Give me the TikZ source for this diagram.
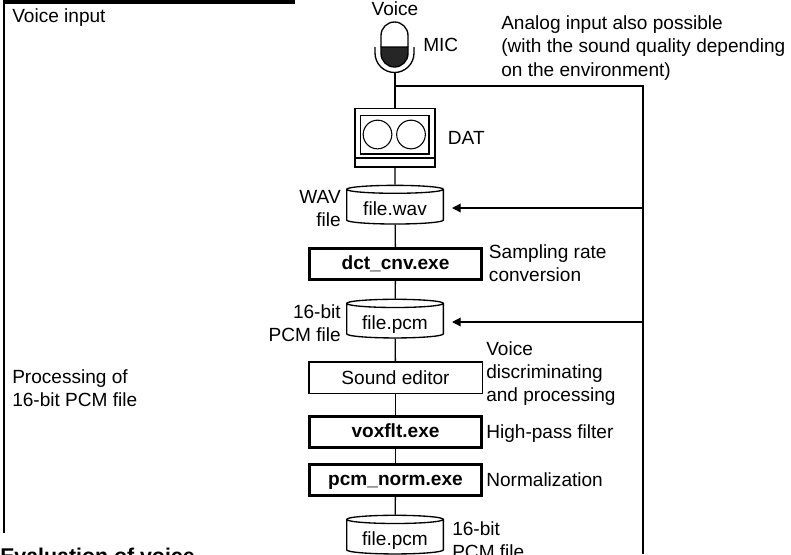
\documentclass[tikz,border=0pt]{standalone}
\usepackage{fontspec}
\setmainfont{Liberation Sans}
\usetikzlibrary{positioning, arrows.meta, shapes.geometric}

\begin{document}
\begin{tikzpicture}[
  x=0.75pt, y=-0.75pt,
  every node/.style={font=\fontsize{14.3}{17.5}\selectfont},
  note/.style={inner sep=0pt, align=left},
  exebox/.style={draw, line width=1.8pt, minimum width=129pt, minimum height=23pt,
              text height=10.5pt, text depth=3pt, inner sep=0pt,
              font=\fontsize{14.3}{17.5}\selectfont\bfseries},
  toolbox/.style={draw, line width=1pt, minimum width=130pt, minimum height=23.5pt, inner sep=0pt},
  store/.style={draw, line width=1pt, shape=cylinder, shape border rotate=90, aspect=0.125,
              minimum width=72.5pt, minimum height=29pt, text height=13.2pt, text depth=0pt, inner sep=0pt},
  flow/.style={line width=1pt},
  feed/.style={line width=1pt, -{Triangle[length=6.5pt,width=6.5pt]}, shorten >=6pt},
]
\useasboundingbox (0,0) rectangle (791,554);
\clip (0,0) rectangle (791,554);

% Frame of the voice input section
\draw[line width=1.5pt] (4,533) -- (4,1.5);
\draw[line width=3pt] (3,1.5) -- (295,1.5);

% Section texts
\node[note, anchor=west] (inputl) at (12,18) {Voice input};
\node[note, anchor=west] (procl) at (12,388) {Processing of\\16-bit PCM file};
\node[note, anchor=base west, font=\fontsize{16}{18}\selectfont\bfseries] (evall) at (0,563) {Evaluation of voice};

% Microphone
\node[note] (voicel) at (395,9) {Voice};
\draw[line width=1pt] (381,47) -- (381,35.5) arc (180:360:13.5) -- (408,47);
\fill[black!85] (381,47) -- (408,47) -- (408,53.5) arc (0:180:13.5) -- cycle;
\draw[line width=1pt] (381,47) -- (408,47) -- (408,53.5) arc (0:180:13.5) -- cycle;
\draw[line width=1pt] (375,47) -- (375,53) arc (180:0:19.5) -- (414,47);
\coordinate (mic) at (395,73);
\node[note, anchor=west] (micl) at (423,45) {MIC};
\node[note, anchor=west] (analogl) at (501,48) {Analog input also possible\\(with the sound quality depending\\on the environment)};

% DAT deck
\node[draw, line width=1pt, minimum width=60pt, minimum height=44pt, inner sep=0pt] (dat) at (395,137.5) {};
\node[draw, line width=1pt, minimum width=51.5pt, minimum height=29pt, inner sep=0pt] (deck) at (394.5,134.5) {};
\draw[line width=1pt] (dat.west |- 0,158) -- (dat.east |- 0,158);
\node[draw, circle, line width=0.8pt, minimum size=21.5pt, inner sep=0pt] (reela) at (377.5,134.5) {};
\node[draw, circle, line width=0.8pt, minimum size=21.5pt, inner sep=0pt] (reelb) at (411,134.5) {};
\node[note, right=9pt of dat] (datl) {DAT};

% Processing column
\node[store] (wav) at (395,207) {file.wav};
\node[exebox] (dct) at (395.5,264) {dct\_cnv.exe};
\node[store] (pcma) at (395,321) {file.pcm};
\node[toolbox] (edit) at (395.5,377.5) {Sound editor};
\node[exebox] (vox) at (395.5,432) {voxflt.exe};
\node[exebox] (norm) at (395.5,480) {pcm\_norm.exe};
\node[store] (pcmb) at (395,537) {file.pcm};

% Labels beside the column
\node[note, align=right, anchor=east] (wavl) at (341,208.5) {WAV~\\file};
\node[note, align=right, anchor=east] (pcmal) at (341,323) {16-bit~\\PCM file};
\node[note, right=4.5pt of dct, yshift=0.7pt] (dctl) {Sampling rate\\conversion};
\node[note, anchor=west] (editl) at (486,373.5) {Voice\\discriminating\\and processing};
\node[note, right=2.5pt of vox, yshift=-0.8pt] (voxl) {High-pass filter};
\node[note, right=2.5pt of norm] (norml) {Normalization};
\node[note, anchor=west] (pcmbl) at (452,540) {16-bit\\PCM file};

% Connections
\draw[flow] (mic) -- (dat);
\draw[flow] (dat) -- (wav);
\draw[flow] (wav) -- (dct);
\draw[flow] (dct) -- (pcma);
\draw[flow] (pcma) -- (edit);
\draw[flow] (edit) -- (vox);
\draw[flow] (vox) -- (norm);
\draw[flow] (norm) -- (pcmb);

% Analog line
\coordinate (tap) at (395,86);
\coordinate (railtop) at (643,86);
\coordinate (railend) at (643,554);
\draw[flow] (tap) -- (railtop) -- (railend);
\coordinate (raila) at (643,208);
\coordinate (railb) at (643,322);
\draw[feed] (raila) -- (raila -| wav.east);
\draw[feed] (railb) -- (railb -| pcma.east);
\end{tikzpicture}
\end{document}
